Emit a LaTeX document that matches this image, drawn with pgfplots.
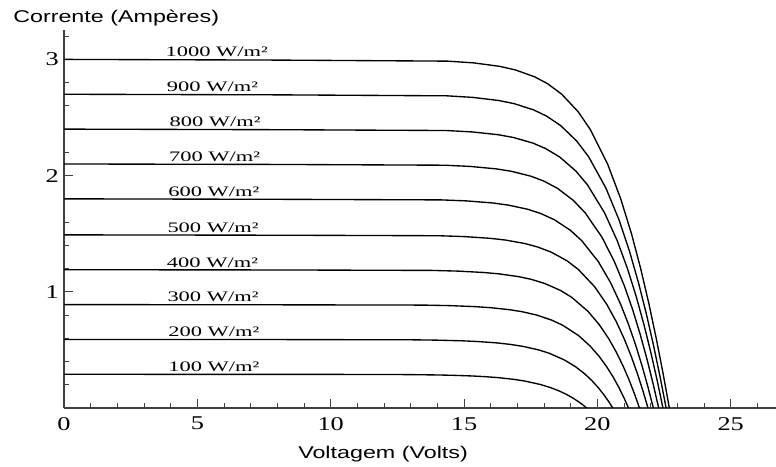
\documentclass[border=0pt]{standalone}
\usepackage{fontspec}
\setmainfont{Liberation Serif}
\newfontfamily\sansf{Liberation Sans}
\usepackage{pgfplots}
\pgfplotsset{compat=1.18}
\tikzset{
  lab/.style={anchor=base west, inner sep=0pt, yshift=2.7pt,
    font=\fontsize{14.5}{15}\selectfont, xscale=1.55},
  ttl/.style={anchor=base west, inner sep=0pt,
    font=\sansf\fontsize{17}{18}\selectfont},
}
\pgfplotsset{ivcurve/.style={black, solid, mark=none, line width=1.35pt, line join=round}}
\begin{document}
\begin{tikzpicture}
\path[use as bounding box] (-64pt,-58pt) rectangle (712pt,408pt);
\begin{axis}[
  at={(0pt,0pt)}, anchor=origin,
  scale only axis, width=712pt, height=377.65pt,
  xmin=0, xmax=26.7, ymin=0, ymax=3.25,
  axis lines=left,
  axis line style={-, black!75, line width=1.8pt},
  tick align=inside,
  xtick={0,5,...,25}, ytick={1,2,3},
  minor xtick={1,2,3,4,6,7,8,9,11,12,13,14,16,17,18,19,21,22,23,24,26},
  minor ytick={0.2,0.4,0.6,0.8,1.2,1.4,1.6,1.8,2.2,2.4,2.6,2.8,3.2},
  major tick length=9pt, minor tick length=5pt,
  tick style={black!75, line width=1pt},
  /pgf/number format/assume math mode=true,
  xticklabel style={font=\fontsize{19.5}{20}\selectfont, inner sep=0pt, anchor=north, yshift=-9pt, xscale=1.35},
  yticklabel style={font=\fontsize{19.5}{20}\selectfont, inner sep=0pt, anchor=east, xshift=-5pt, xscale=1.35},
  clip=false,
]
% 1000 W/m2
\addplot[ivcurve] coordinates {(0,3.0) (8,2.994) (14.387,2.985) (15.362,2.97) (16.341,2.94) (16.918,2.91) (17.651,2.85) (18.140,2.79) (18.666,2.7) (19.279,2.55) (19.727,2.4) (20.384,2.1) (20.877,1.8) (21.280,1.5) (21.625,1.2) (21.931,0.9) (22.208,0.6) (22.463,0.3) (22.7,0)};
% 900
\addplot[ivcurve] coordinates {(0,2.7) (8,2.695) (14.356,2.6865) (15.331,2.673) (16.309,2.646) (16.885,2.619) (17.616,2.565) (18.104,2.511) (18.627,2.43) (19.235,2.295) (19.679,2.16) (20.327,1.89) (20.811,1.62) (21.205,1.35) (21.541,1.08) (21.838,0.81) (22.106,0.54) (22.352,0.27) (22.58,0)};
% 800
\addplot[ivcurve] coordinates {(0,2.4) (8,2.395) (14.326,2.388) (15.300,2.376) (16.277,2.352) (16.853,2.328) (17.582,2.28) (18.067,2.232) (18.588,2.16) (19.192,2.04) (19.631,1.92) (20.270,1.68) (20.745,1.44) (21.130,1.2) (21.457,0.96) (21.745,0.72) (22.004,0.48) (22.241,0.24) (22.46,0)};
% 700
\addplot[ivcurve] coordinates {(0,2.1) (8,2.096) (14.255,2.0895) (15.229,2.079) (16.206,2.058) (16.780,2.037) (17.507,1.995) (17.991,1.953) (18.509,1.89) (19.108,1.785) (19.543,1.68) (20.173,1.47) (20.639,1.26) (21.015,1.05) (21.333,0.84) (21.612,0.63) (21.862,0.42) (22.090,0.21) (22.3,0)};
% 600
\addplot[ivcurve] coordinates {(0,1.8) (8,1.796) (14.145,1.791) (15.118,1.782) (16.094,1.764) (16.667,1.746) (17.393,1.71) (17.875,1.674) (18.390,1.62) (18.985,1.53) (19.415,1.44) (20.036,1.26) (20.493,1.08) (20.860,0.9) (21.169,0.72) (21.439,0.54) (21.680,0.36) (21.899,0.18) (22.1,0)};
% 500
\addplot[ivcurve] coordinates {(0,1.49) (8,1.487) (14.037,1.4826) (15.010,1.4751) (15.985,1.4602) (16.557,1.4453) (17.281,1.4155) (17.761,1.3857) (18.274,1.341) (18.864,1.2665) (19.289,1.192) (19.901,1.043) (20.349,0.894) (20.706,0.745) (21.006,0.596) (21.267,0.447) (21.499,0.298) (21.708,0.149) (21.9,0)};
% 400
\addplot[ivcurve] coordinates {(0,1.19) (8,1.188) (13.807,1.184) (14.780,1.178) (15.753,1.166) (16.325,1.154) (17.047,1.1305) (17.525,1.107) (18.035,1.071) (18.621,1.0115) (19.041,0.952) (19.644,0.833) (20.083,0.714) (20.431,0.595) (20.722,0.476) (20.974,0.357) (21.197,0.238) (21.397,0.119) (21.58,0)};
% 300
\addplot[ivcurve] coordinates {(0,0.89) (8,0.888) (13.486,0.8856) (14.459,0.8811) (15.431,0.8722) (16.002,0.8633) (16.722,0.8455) (17.199,0.8277) (17.706,0.801) (18.287,0.7565) (18.703,0.712) (19.297,0.623) (19.727,0.534) (20.066,0.445) (20.348,0.356) (20.591,0.267) (20.805,0.178) (20.996,0.089) (21.17,0)};
% 200
\addplot[ivcurve] coordinates {(0,0.59) (8,0.589) (12.986,0.587) (13.958,0.5841) (14.930,0.5782) (15.499,0.5723) (16.218,0.5605) (16.692,0.5487) (17.197,0.531) (17.774,0.5015) (18.185,0.472) (18.770,0.413) (19.191,0.354) (19.521,0.295) (19.794,0.236) (20.028,0.177) (20.233,0.118) (20.415,0.059) (20.58,0)};
% 100
\addplot[ivcurve] coordinates {(0,0.29) (8,0.2895) (12.095,0.2886) (13.067,0.2871) (14.038,0.2842) (14.607,0.2813) (15.323,0.2755) (15.796,0.2697) (16.298,0.261) (16.870,0.2465) (17.277,0.232) (17.853,0.203) (18.265,0.174) (18.586,0.145) (18.850,0.116) (19.074,0.087) (19.270,0.058) (19.444,0.029) (19.6,0)};

\node[lab] at (axis cs:3.80,3.0) {1000 W/m²};
\node[lab] at (axis cs:3.85,2.7) {900 W/m²};
\node[lab] at (axis cs:3.95,2.4) {800 W/m²};
\node[lab] at (axis cs:3.93,2.1) {700 W/m²};
\node[lab] at (axis cs:3.90,1.8) {600 W/m²};
\node[lab] at (axis cs:3.87,1.49) {500 W/m²};
\node[lab] at (axis cs:3.85,1.19) {400 W/m²};
\node[lab] at (axis cs:3.87,0.89) {300 W/m²};
\node[lab] at (axis cs:3.90,0.59) {200 W/m²};
\node[lab] at (axis cs:3.90,0.29) {100 W/m²};

\node[ttl, xshift=-51pt, yshift=7.4pt, xscale=1.37] at (rel axis cs:0,1) {Corrente (Ampères)};
\node[ttl, xshift=234pt, yshift=-50.3pt, xscale=1.37] at (axis cs:0,0) {Voltagem (Volts)};
\end{axis}
\end{tikzpicture}
\end{document}
